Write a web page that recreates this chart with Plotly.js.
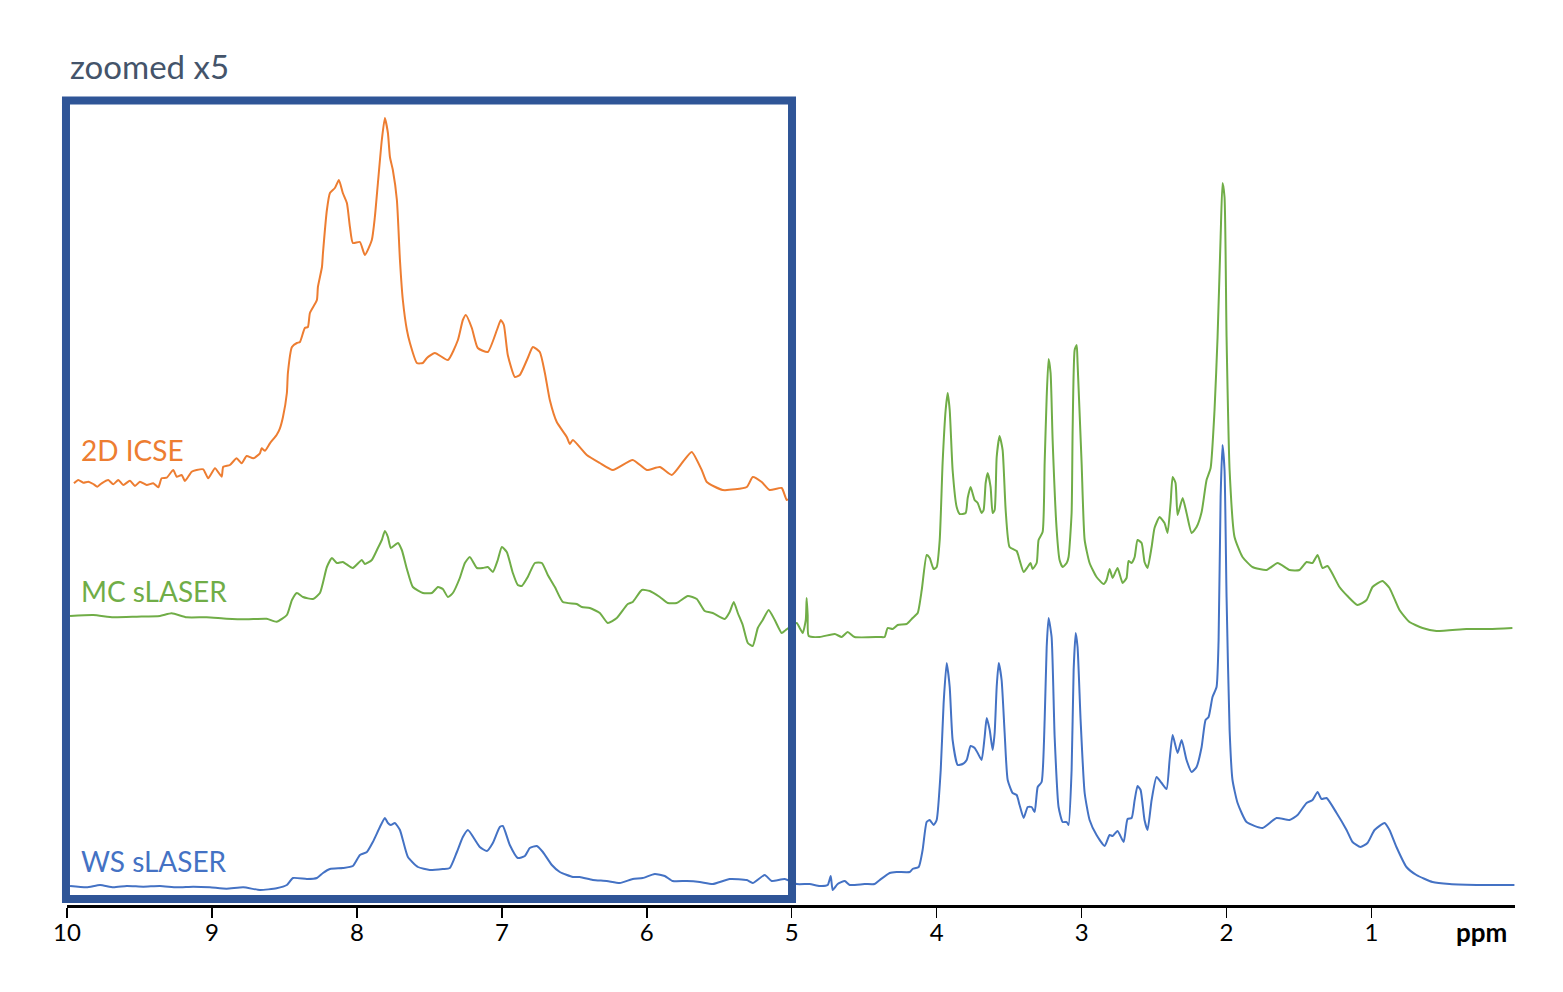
<!DOCTYPE html>
<html>
<head>
<meta charset="utf-8">
<script src="https://cdn.plot.ly/plotly-3.0.1.min.js"></script>
<style>html,body{margin:0;padding:0;background:#fff;}#chart{width:1563px;height:992px;}</style>
</head>
<body>
<div id="chart"></div>
<script>
// ---- Data (ppm, displayed intensity relative to each trace's baseline; 10-5 ppm region shown zoomed x5) ----
const icsePpm = [9.952,9.922,9.888,9.853,9.819,9.791,9.761,9.715,9.681,9.646,9.612,9.566,9.531,9.497,9.450,9.405,9.370,9.347,9.312,9.267,9.243,9.209,9.186,9.140,9.106,9.060,9.026,8.979,8.933,8.922,8.876,8.830,8.795,8.761,8.715,8.669,8.657,8.634,8.600,8.554,8.531,8.510,8.483,8.476,8.448,8.414,8.393,8.359,8.338,8.324,8.276,8.269,8.241,8.234,8.207,8.186,8.152,8.124,8.097,8.069,8.048,8.028,7.979,7.945,7.897,7.876,7.855,7.828,7.807,7.786,7.772,7.752,7.724,7.703,7.683,7.655,7.634,7.586,7.545,7.517,7.462,7.372,7.303,7.269,7.248,7.207,7.166,7.097,7.034,7.007,6.986,6.959,6.910,6.876,6.821,6.786,6.738,6.703,6.669,6.621,6.552,6.531,6.510,6.414,6.324,6.234,6.097,6.000,5.910,5.828,5.752,5.690,5.621,5.586,5.476,5.310,5.269,5.207,5.152,5.069,5.034,5.000,4.979];
const icseVal = [0.7,4,1.3,2.3,0,-2.7,0.7,4,-0.3,4,-1,3.3,-2,2.3,-1,0.7,-3.3,5.7,6.3,14,7.3,9,3,12.3,14,14.7,5.7,15.7,7.3,17.3,19,25.7,20.7,28,25.7,30.7,35.7,33.3,40.7,49,55.7,67,91,111,137,141,142,156,157,171,184,197,217,231,274,291,296,304,291,281,257,241,242,229,244,267,301,344,366,351,327,314,284,224,184,154,141,121,121,126,131,124,144,164,169,156,136,132,154,164,159,129,107,109,126,137,132,111,84,62,47,40,44,29,21,14,24,14,17,9,22,32,14,2,-6,-3,7,2,-6,-4,-16,-14,-24];

const mcPpm = [9.979,9.819,9.681,9.519,9.359,9.278,9.174,9.037,8.899,8.761,8.623,8.554,8.483,8.448,8.414,8.372,8.303,8.255,8.207,8.172,8.138,8.097,8.028,7.966,7.945,7.897,7.855,7.828,7.807,7.786,7.766,7.717,7.690,7.655,7.614,7.545,7.483,7.441,7.407,7.372,7.338,7.290,7.255,7.221,7.172,7.131,7.097,7.062,7.028,7.000,6.966,6.924,6.890,6.862,6.821,6.772,6.724,6.683,6.634,6.579,6.483,6.448,6.393,6.324,6.269,6.207,6.131,6.097,6.034,5.979,5.910,5.855,5.793,5.717,5.655,5.600,5.545,5.462,5.428,5.400,5.372,5.338,5.303,5.269,5.234,5.200,5.159,5.117,5.069,5.041,4.966,4.945,4.924,4.903,4.897,4.890,4.883,4.807,4.703,4.655,4.614,4.566,4.393,4.359,4.338,4.303,4.269,4.207,4.166,4.131,4.103,4.069,4.048,4.021,4.000,3.979,3.959,3.938,3.924,3.910,3.890,3.862,3.841,3.800,3.786,3.766,3.738,3.717,3.690,3.676,3.662,3.648,3.628,3.614,3.600,3.586,3.566,3.545,3.524,3.497,3.448,3.428,3.400,3.372,3.352,3.338,3.310,3.297,3.269,3.255,3.241,3.228,3.214,3.200,3.172,3.152,3.131,3.103,3.090,3.069,3.062,3.048,3.034,3.028,3.000,2.979,2.945,2.897,2.848,2.828,2.807,2.786,2.752,2.717,2.690,2.676,2.655,2.634,2.614,2.586,2.566,2.545,2.517,2.497,2.462,2.428,2.407,2.386,2.372,2.352,2.338,2.303,2.276,2.241,2.207,2.172,2.138,2.110,2.083,2.062,2.041,2.028,2.014,2.000,1.979,1.945,1.890,1.821,1.724,1.648,1.566,1.497,1.448,1.407,1.372,1.338,1.303,1.221,1.166,1.097,1.034,0.993,0.924,0.876,0.807,0.738,0.648,0.552,0.345,0.186,0.028];
const mcVal = [13,14,11.7,12.3,13,15.7,11.7,11.7,10.3,9.7,10.3,7.3,14,29,36,32,30,36,62,71,66,67,61,69,65,69,81,89,98,92,81,86,79,60,42,36,36,42,40,32,36,51,66,72,61,61,62,57,69,82,77,56,44,43,52,66,66,54,42,27,25,22,21,16,6,11,25,27,39,38,32,26,26,33,30,18,16,10,17,27,16,4,-14,-17,1,9,19,9,-4,-1,6,1,-4,9,31,14,-7,-8,-5,-8,-3,-8,-8,-8,1,0,4,5,11,16,39,74,71,60,62,89,166,219,236,219,159,122,115,116,131,142,129,126,116,119,146,156,142,116,119,172,193,179,119,82,78,69,57,62,66,60,66,89,97,166,232,270,256,189,99,69,62,66,72,116,199,279,284,266,166,89,66,52,45,49,60,51,61,46,51,68,66,72,89,86,67,61,82,101,112,106,96,126,152,146,114,131,116,96,102,117,149,161,219,292,392,446,432,292,159,92,72,62,59,66,59,59,67,66,74,61,63,42,33,24,29,42,48,41,19,7,1,-2,0,0,1];

const wsPpm = [9.979,9.864,9.772,9.681,9.588,9.474,9.359,9.243,9.129,9.014,8.899,8.784,8.669,8.554,8.483,8.441,8.345,8.276,8.234,8.186,8.097,8.028,7.979,7.931,7.890,7.841,7.807,7.786,7.766,7.738,7.703,7.648,7.579,7.497,7.407,7.359,7.310,7.269,7.234,7.152,7.103,7.062,7.014,6.993,6.945,6.890,6.841,6.807,6.759,6.717,6.655,6.600,6.510,6.462,6.372,6.276,6.186,6.097,6.028,5.945,5.876,5.821,5.724,5.634,5.545,5.428,5.310,5.269,5.186,5.138,5.048,4.966,4.876,4.807,4.752,4.731,4.717,4.683,4.634,4.600,4.497,4.428,4.393,4.324,4.276,4.186,4.166,4.124,4.097,4.069,4.048,4.021,4.000,3.972,3.952,3.931,3.910,3.890,3.855,3.821,3.793,3.766,3.738,3.717,3.690,3.669,3.655,3.634,3.614,3.600,3.586,3.572,3.552,3.531,3.510,3.476,3.448,3.428,3.400,3.372,3.345,3.324,3.303,3.276,3.255,3.241,3.228,3.207,3.186,3.159,3.131,3.103,3.090,3.069,3.055,3.041,3.028,3.007,2.979,2.945,2.897,2.841,2.807,2.786,2.752,2.710,2.683,2.655,2.634,2.614,2.593,2.566,2.545,2.517,2.483,2.448,2.414,2.393,2.372,2.338,2.310,2.276,2.241,2.207,2.172,2.145,2.124,2.097,2.069,2.055,2.041,2.028,2.014,2.000,1.979,1.959,1.924,1.862,1.752,1.655,1.566,1.510,1.448,1.407,1.372,1.345,1.310,1.241,1.172,1.131,1.076,1.028,0.979,0.910,0.876,0.828,0.759,0.690,0.579,0.462,0.234,0.014];
const wsVal = [-1,-2.3,0,-2.3,-1,-1.7,-1,-2.3,-1.7,-2.3,-3.7,-2.3,-5,-3.3,0,7,6,7,12,16,17,19,30,33,43,58,67,62,60,62,55,28,18,15,16,17,33,48,55,38,34,42,58,59,40,27,29,37,39,33,20,13,8,8,5,4,2,6,7,11,9,4,4,3,1,6,5,2,10,4,6,1,1,-1,0,9,-5,1,4,0,1,1,5,12,13,13,16,18,35,63,65,60,65,115,182,222,198,145,120,121,125,139,137,132,125,148,167,155,135,152,198,222,205,152,105,92,90,80,67,78,78,73,98,103,165,238,267,248,148,78,63,63,60,115,215,252,238,165,92,65,50,39,50,49,54,43,66,67,85,99,95,65,55,85,108,102,96,125,150,132,145,125,113,118,138,165,168,188,198,245,388,440,415,288,155,105,82,63,57,67,65,70,82,85,93,86,87,72,55,43,38,42,55,62,55,38,18,10,3,1,0,0];

const seriesNames = ['WS sLASER','MC sLASER','2D ICSE'];
const tickVals = [1,2,3,4,5,6,7,8,9,10];
const tickText = ['1','2','3','4','5','6','7','8','9','10'];

// ---- Layout constants ----
const colors = {ws:'#4472C4', mc:'#70AD47', icse:'#ED7D31'};
const offsets = {ws:20, mc:276, icse:421};
const shift = (arr, off) => arr.map(v => v + off);

const traces = [
  {x: wsPpm, y: shift(wsVal, offsets.ws), name: seriesNames[0], mode:'lines',
   line:{color:colors.ws, width:2, shape:'spline', smoothing:0.5}},
  {x: mcPpm, y: shift(mcVal, offsets.mc), name: seriesNames[1], mode:'lines',
   line:{color:colors.mc, width:2, shape:'spline', smoothing:0.5}},
  {x: icsePpm, y: shift(icseVal, offsets.icse), name: seriesNames[2], mode:'lines',
   line:{color:colors.icse, width:2, shape:'spline', smoothing:0.5}}
];

const FONT = 'Lato, "Open Sans", sans-serif';

const layout = {
  width:1563, height:992,
  margin:{l:67, r:48, t:20, b:87, pad:0},
  paper_bgcolor:'#ffffff', plot_bgcolor:'#ffffff',
  showlegend:false,
  font:{family:FONT, color:'#000'},
  xaxis:{
    range:[10, 0.01], autorange:false,
    tickmode:'array', tickvals:tickVals, ticktext:tickText,
    ticks:'outside', ticklen:10, tickwidth:1.5, tickcolor:'#000',
    ticklabelstandoff:-6,
    showline:true, linecolor:'#000', linewidth:3,
    showgrid:false, zeroline:false,
    tickfont:{family:FONT, size:24, color:'#000'}
  },
  yaxis:{range:[0,885], autorange:false, visible:false, showgrid:false, zeroline:false},
  shapes:[
    {type:'rect', xref:'paper', yref:'paper', x0:-0.0007, x1:0.5007, y0:0.0068, y1:0.909,
     line:{color:'#2F5597', width:8}, fillcolor:'rgba(0,0,0,0)', layer:'above'}
  ],
  annotations:[
    {xref:'paper', yref:'paper', x:0.0005, y:0.948, xanchor:'left', yanchor:'middle', showarrow:false,
     text:'zoomed x5', font:{family:FONT, size:33, color:'#44546A'}},
    {xref:'paper', yref:'paper', x:0.008, y:0.514, xanchor:'left', yanchor:'middle', showarrow:false,
     text:seriesNames[2], font:{family:FONT, size:28, color:colors.icse}},
    {xref:'paper', yref:'paper', x:0.008, y:0.355, xanchor:'left', yanchor:'middle', showarrow:false,
     text:seriesNames[1], font:{family:FONT, size:28, color:colors.mc}},
    {xref:'paper', yref:'paper', x:0.008, y:0.0497, xanchor:'left', yanchor:'middle', showarrow:false,
     text:seriesNames[0], font:{family:FONT, size:28, color:colors.ws}},
    {xref:'paper', yref:'paper', x:0.996, y:-0.030, xanchor:'right', yanchor:'middle', showarrow:false,
     text:'<b>ppm</b>', font:{family:FONT, size:26, color:'#000'}}
  ]
};

Plotly.newPlot('chart', traces, layout, {displayModeBar:false, staticPlot:true});
</script>
</body>
</html>
